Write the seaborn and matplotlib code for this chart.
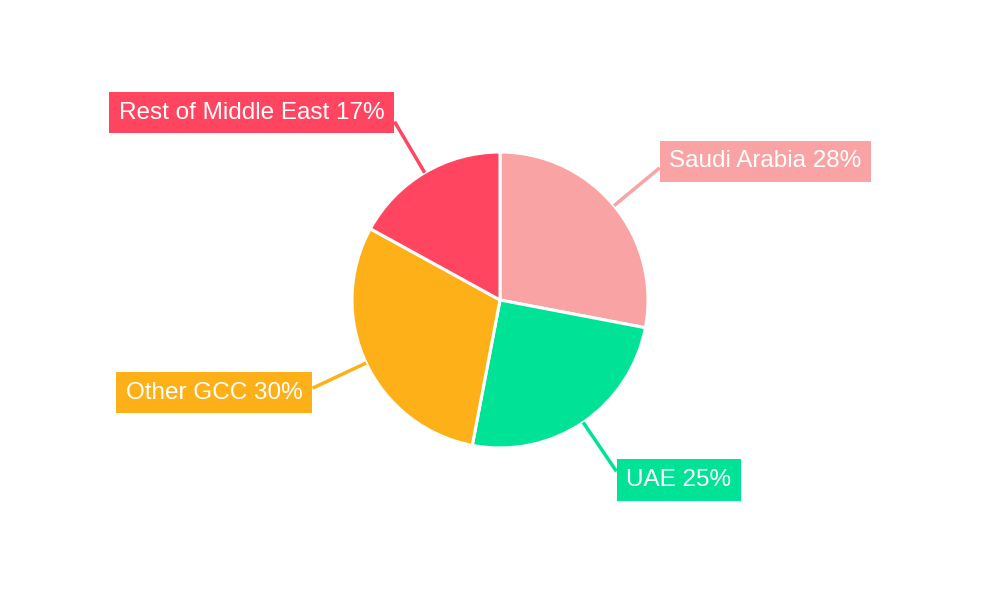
import numpy as np
import matplotlib as mpl
mpl.use('Agg')
import matplotlib.pyplot as plt
import seaborn as sns

sns.set_theme(style='white')
plt.rcParams['font.family'] = ['Liberation Sans', 'DejaVu Sans']

regions = ['Saudi Arabia', 'UAE', 'Other GCC', 'Rest of Middle East']
shares = [28, 25, 30, 17]
colors = sns.color_palette(['#F9A3A4', '#00E396', '#FEB019', '#FF4560'])

fig = plt.figure(figsize=(10, 6), dpi=100)
ax = fig.add_axes([0, 0, 1, 1])

r_px = 148.0
wedges, _ = ax.pie(shares, colors=colors, startangle=90, counterclock=False,
                   radius=1.0, center=(0, 0),
                   wedgeprops={'edgecolor': 'white', 'linewidth': 2.2})

ax.set_xlim(-500 / r_px, 500 / r_px)
ax.set_ylim(-300 / r_px, 300 / r_px)
ax.set_aspect('equal')
ax.axis('off')

for w, name, pct, col in zip(wedges, regions, shares, colors):
    mid = np.deg2rad((w.theta1 + w.theta2) / 2)
    cx, cy = np.cos(mid), np.sin(mid)
    ax.plot([cx * 1.0, cx * 1.40], [cy * 1.0, cy * 1.40], color=col, lw=2.5,
            solid_capstyle='butt', zorder=1)
    ha = 'left' if cx > 0 else 'right'
    dx = 0.066 if cx > 0 else -0.066
    ax.text(cx * 1.40 + dx, cy * 1.47, f'{name} {pct}%', ha=ha, va='center',
            fontsize=17.5, color='white', zorder=3,
            bbox=dict(boxstyle='square,pad=0.4', fc=col, ec='none'))

fig.savefig('out.png', dpi=100, facecolor='white')
